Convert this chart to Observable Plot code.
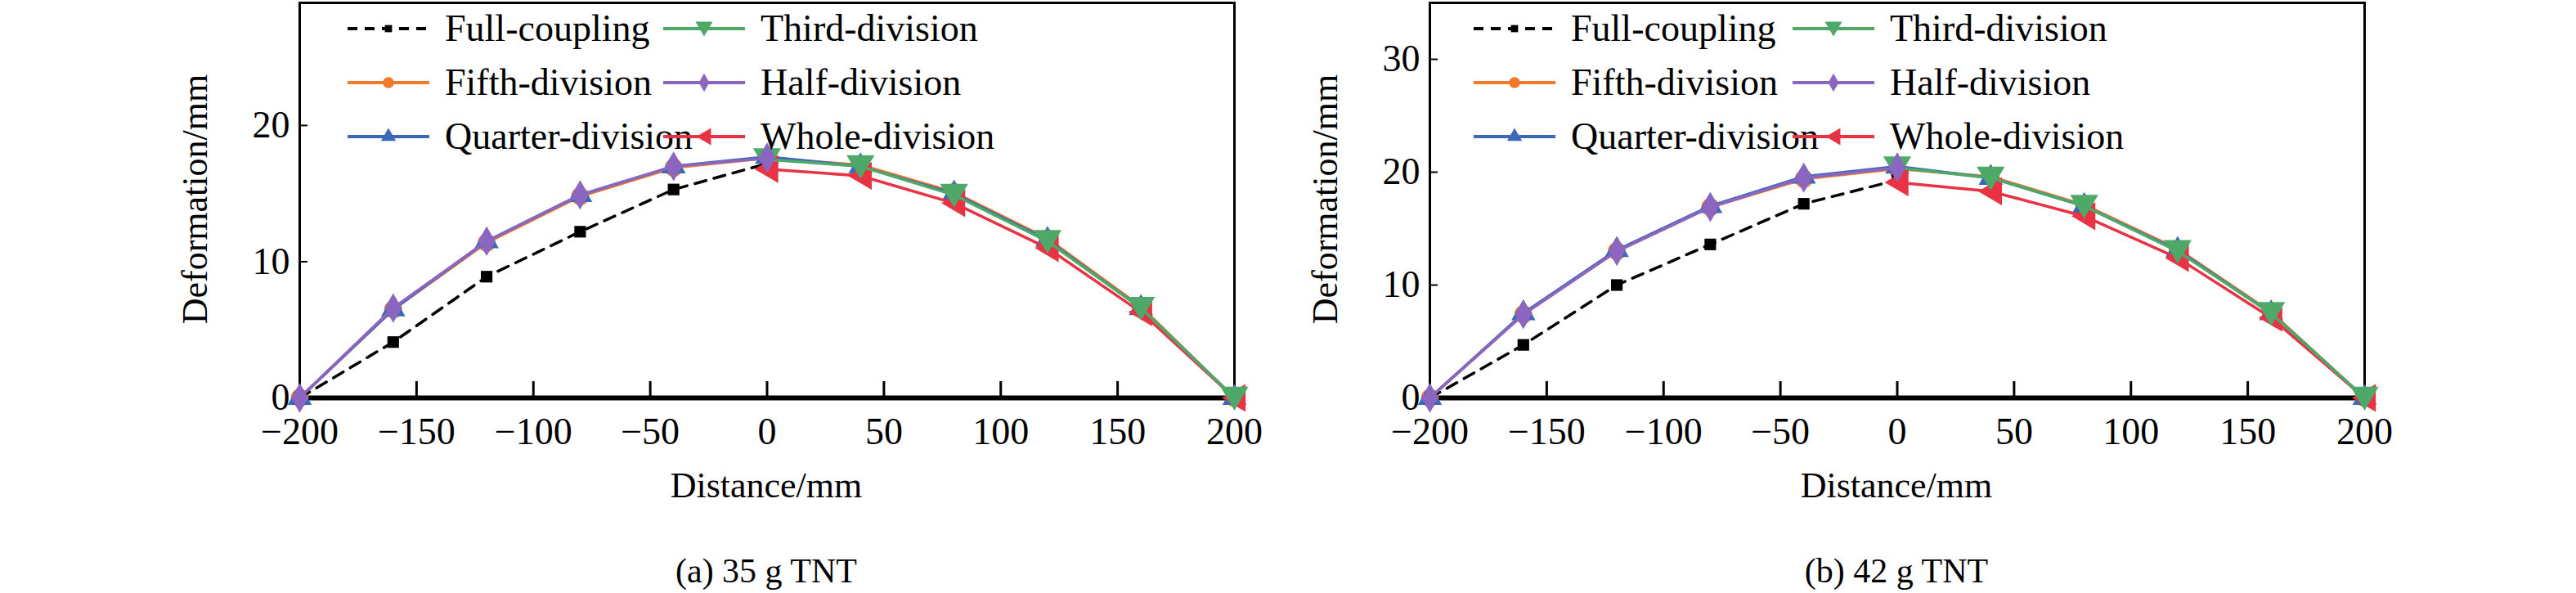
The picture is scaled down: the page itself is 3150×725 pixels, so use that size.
<!DOCTYPE html>
<html><head><meta charset="utf-8">
<script src="https://cdn.jsdelivr.net/npm/d3@7"></script>
<script src="https://cdn.jsdelivr.net/npm/@observablehq/plot@0.6"></script>
<style>
body{margin:0;background:#fff;font-family:"Liberation Serif",serif;}
#wrap{position:relative;width:3150px;height:725px;}
.panel{position:absolute;top:0;}
.cap{position:absolute;top:674px;font-size:42px;text-align:center;width:600px;}
.leg{position:absolute;font-size:46px;display:flex;align-items:center;white-space:nowrap;}
</style></head><body><div id="wrap"></div>
<script>
const xs = [-200,-160,-120,-80,-40,0,40,80,120,160,200];
const xsLeft = [-200,-160,-120,-80,-40,0];
const xsRight = [0,40,80,120,160,200];
// panel (a) 35 g TNT
const aFull    = [0,4.1,8.9,12.2,15.3,17.2];
const aFifth   = [0,6.5,11.4,14.8,16.9,17.6,17.1,15.1,11.7,6.7,0];
const aQuarter = [0,6.5,11.5,14.9,17.0,17.7,17.0,15.0,11.6,6.6,0];
const aHalf    = [0,6.6,11.5,14.9,17.0,17.6];
const aThird   = [17.5,17.0,14.9,11.5,6.6,0];
const aWhole   = [16.8,16.3,14.3,11.0,6.3,0];
// panel (b) 42 g TNT
const bFull    = [0,4.7,10.0,13.6,17.2,19.3];
const bFifth   = [0,7.4,13.0,16.9,19.4,20.3,19.6,17.1,13.2,7.6,0];
const bQuarter = [0,7.5,13.1,17.0,19.6,20.5,19.5,17.0,13.1,7.5,0];
const bHalf    = [0,7.4,13.0,16.9,19.5,20.4];
const bThird   = [20.4,19.5,17.0,13.0,7.5,0];
const bWhole   = [19.1,18.3,16.1,12.4,7.1,0];

const names = ["Full-coupling","Fifth-division","Quarter-division","Third-division","Half-division","Whole-division"];
const colors = ["#000000","#F07A2A","#3C68BA","#4EA868","#8B66C0","#E83344"];

const triDown = {draw(ctx,size){const r=Math.sqrt(size/1.3);ctx.moveTo(-r,-r*0.8);ctx.lineTo(r,-r*0.8);ctx.lineTo(0,r*0.9);ctx.closePath();}};
const triLeft = {draw(ctx,size){const r=Math.sqrt(size/1.3);ctx.moveTo(-r*0.9,0);ctx.lineTo(r*0.8,-r);ctx.lineTo(r*0.8,r);ctx.closePath();}};
const symbols = ["square","circle","triangle",triDown,"diamond",triLeft];

function series(xv, yv){ return xv.map((x,i)=>({x, y:yv[i]})); }

function makePanel(left, ymax, yticks, data){
  const marks = [
    Plot.axisX({ticks:[-200,-150,-100,-50,0,50,100,150,200], tickSize:-20, tickPadding:44, fontSize:46, tickFormat:d=>String(d).replace("-","\u2212"), label:null, strokeWidth:3}),
    Plot.axisY({ticks:yticks, tickSize:-10, tickPadding:22, fontSize:46, label:null, strokeWidth:2}),
    Plot.frame({stroke:"#000", strokeWidth:3}),
    Plot.ruleY([0],{stroke:"#000", strokeWidth:6}),
  ];
  data.forEach((d)=>{
    const s = d.s, i = d.i;
    marks.push(Plot.line(s,{x:"x",y:"y",stroke:colors[i],strokeWidth:3.5,strokeDasharray:i===0?"14,10":null}));
    marks.push(Plot.dot(s,{x:"x",y:"y",fill:colors[i],stroke:"none",symbol:()=>symbols[i],r:i===0?8:11}));
  });
  return Plot.plot({
    width:1575, height:620, marginLeft:left, marginRight:1575-left-1143, marginTop:3, marginBottom:134,
    x:{domain:[-200,200]}, y:{domain:[0,ymax]},
    style:{fontFamily:"Liberation Serif, serif", fontSize:"46px", color:"#000", background:"transparent", overflow:"visible"},
    marks
  });
}

const wrap = document.getElementById("wrap");
function addPanel(offset, left, ymax, yticks, d, cap, legX){
  const div = document.createElement("div"); div.className="panel"; div.style.left=offset+"px";
  div.appendChild(makePanel(left, ymax, yticks, d));
  wrap.appendChild(div);
  const ylab = document.createElement("div");
  ylab.textContent="Deformation/mm";
  ylab.style.cssText=`position:absolute;font-size:44px;left:${offset+left-128-200}px;top:218px;width:400px;text-align:center;transform:rotate(-90deg);`;
  wrap.appendChild(ylab);
  const xlab = document.createElement("div");
  xlab.textContent="Distance/mm";
  xlab.style.cssText=`position:absolute;font-size:44px;left:${offset+left+571-300}px;top:568px;width:600px;text-align:center;`;
  wrap.appendChild(xlab);
  const c = document.createElement("div"); c.className="cap"; c.textContent=cap;
  c.style.left=(offset+left+571-300)+"px"; wrap.appendChild(c);
  [0,1,2,3,4,5].forEach(i=>{
    const col = i<3?0:1, row=i%3;
    const el=document.createElement("div"); el.className="leg";
    el.style.left=(offset+legX[col])+"px"; el.style.top=(8+row*66)+"px";
    const sym=symbols[i];
    const path = d3.path();
    const size = i===0?8*8*1.2:11*11*1.2;
    const type = typeof sym==="string"? d3["symbol"+sym[0].toUpperCase()+sym.slice(1)] : sym;
    d3.symbol(type,size).context(path)();
    el.innerHTML=`<svg width="110" height="50"><line x1="5" x2="105" y1="25" y2="25" stroke="${colors[i]}" stroke-width="4" ${i===0?'stroke-dasharray="12,9"':''}/><path transform="translate(55,25)" d="${path}" fill="${colors[i]}"/></svg><span style="margin-left:14px">${names[i]}</span>`;
    wrap.appendChild(el);
  });
}
addPanel(0, 366, 29, [0,10,20], [
  {s:series(xs,aFifth),i:1},{s:series(xs,aQuarter),i:2},{s:series(xsLeft,aFull),i:0},
  {s:series(xsRight,aWhole),i:5},{s:series(xsRight,aThird),i:3},{s:series(xsLeft,aHalf),i:4}
], "(a) 35 g TNT", [420,806]);
addPanel(1575, 173, 35, [0,10,20,30], [
  {s:series(xs,bFifth),i:1},{s:series(xs,bQuarter),i:2},{s:series(xsLeft,bFull),i:0},
  {s:series(xsRight,bWhole),i:5},{s:series(xsRight,bThird),i:3},{s:series(xsLeft,bHalf),i:4}
], "(b) 42 g TNT", [222,612]);
</script></body></html>
